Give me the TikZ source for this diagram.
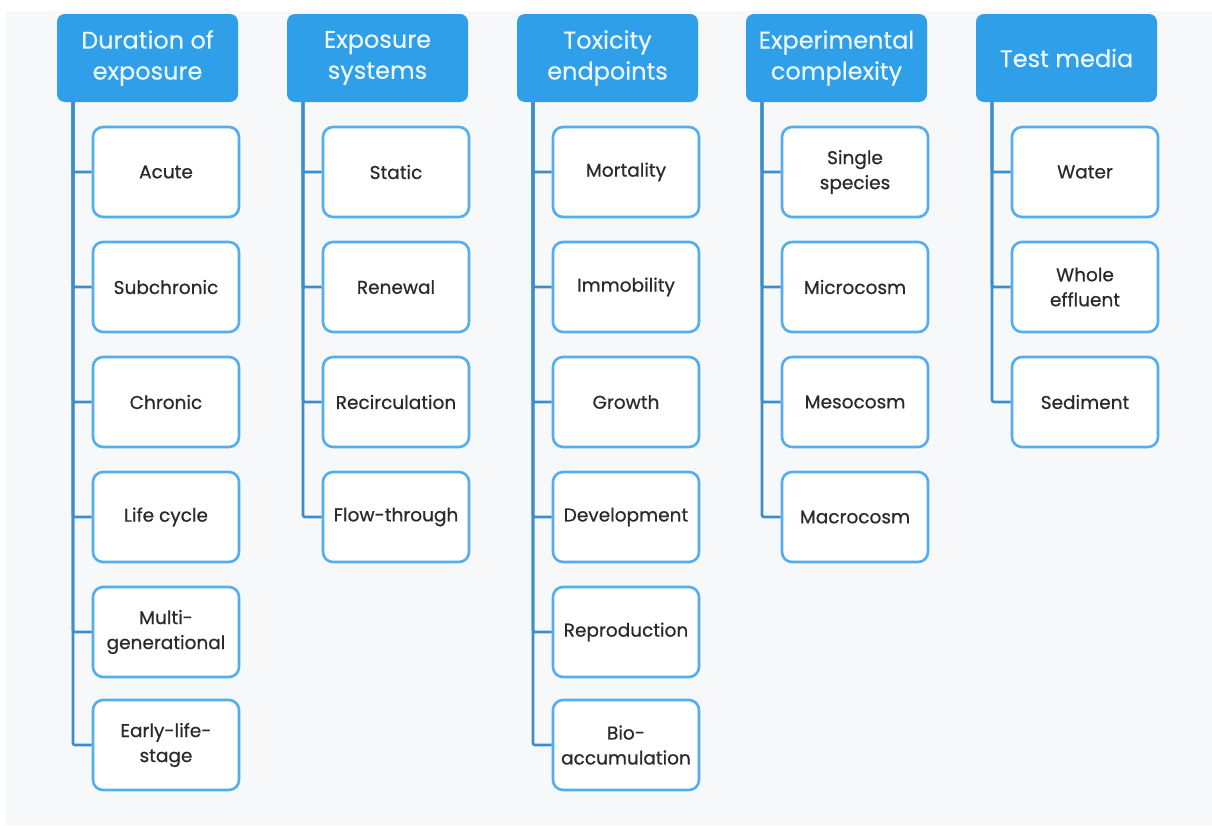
\documentclass[tikz,border=0pt]{standalone}
\usepackage{fontspec}
\setmainfont{Poppins}
\newfontfamily\childfont{Poppins}[FakeBold=0.6]
\newfontfamily\hdrfont{Poppins}[FakeBold=0.3]
\definecolor{bgc}{HTML}{F6F8FA}
\definecolor{hdrc}{HTML}{2E9FE8}
\definecolor{linec}{HTML}{3C8DCB}
\definecolor{boxc}{HTML}{52AEEE}
\definecolor{txtc}{HTML}{2A2A2A}
\definecolor{htxt}{HTML}{EEF7FD}
\begin{document}
\begin{tikzpicture}[x=1pt,y=-1pt,
  hdr/.style={fill=hdrc, rounded corners=8pt, minimum width=181pt, minimum height=88pt,
    text=htxt, font=\hdrfont\fontsize{24}{31}\selectfont, align=center, inner sep=0pt},
  child/.style={draw=boxc, line width=2.6pt, fill=white, rounded corners=10pt,
    minimum width=146pt, minimum height=90pt, text=txtc,
    font=\childfont\fontsize{18.5}{25}\selectfont, align=center, inner sep=0pt},
  conn/.style={draw=linec, line width=2.6pt, rounded corners=2pt}]
\fill[white] (0,0) rectangle (1212,825);
\fill[bgc] (6,11) rectangle (1212,825);
\useasboundingbox (0,0) rectangle (1212,825);

% column 1
\node[hdr] (h1) at (147.5,58) {Duration of\\exposure};
\node[child] (c11) at (166,172) {Acute};
\node[child] (c12) at (166,287) {Subchronic};
\node[child] (c13) at (166,402) {Chronic};
\node[child] (c14) at (166,517) {Life cycle};
\node[child] (c15) at (166,632) {Multi-\\generational};
\node[child] (c16) at (166,745) {Early-life-\\stage};
\coordinate (t1) at (73,102);
\foreach \k in {1,...,6} \draw[conn] (t1) |- (c1\k.west);

% column 2
\node[hdr] (h2) at (377.5,58) {Exposure\\systems};
\node[child] (c21) at (396,172) {Static};
\node[child] (c22) at (396,287) {Renewal};
\node[child] (c23) at (396,402) {Recirculation};
\node[child] (c24) at (396,517) {Flow-through};
\coordinate (t2) at (303,102);
\foreach \k in {1,...,4} \draw[conn] (t2) |- (c2\k.west);

% column 3
\node[hdr] (h3) at (607.5,58) {Toxicity\\endpoints};
\node[child] (c31) at (626,172) {Mortality};
\node[child] (c32) at (626,287) {Immobility};
\node[child] (c33) at (626,402) {Growth};
\node[child] (c34) at (626,517) {Development};
\node[child] (c35) at (626,632) {Reproduction};
\node[child] (c36) at (626,745) {Bio-\\accumulation};
\coordinate (t3) at (533,102);
\foreach \k in {1,...,6} \draw[conn] (t3) |- (c3\k.west);

% column 4
\node[hdr] (h4) at (836.5,58) {Experimental\\complexity};
\node[child] (c41) at (855,172) {Single\\species};
\node[child] (c42) at (855,287) {Microcosm};
\node[child] (c43) at (855,402) {Mesocosm};
\node[child] (c44) at (855,517) {Macrocosm};
\coordinate (t4) at (762,102);
\foreach \k in {1,...,4} \draw[conn] (t4) |- (c4\k.west);

% column 5
\node[hdr] (h5) at (1066.5,58) {Test media};
\node[child] (c51) at (1085,172) {Water};
\node[child] (c52) at (1085,287) {Whole\\effluent};
\node[child] (c53) at (1085,402) {Sediment};
\coordinate (t5) at (992,102);
\foreach \k in {1,...,3} \draw[conn] (t5) |- (c5\k.west);
\end{tikzpicture}
\end{document}
